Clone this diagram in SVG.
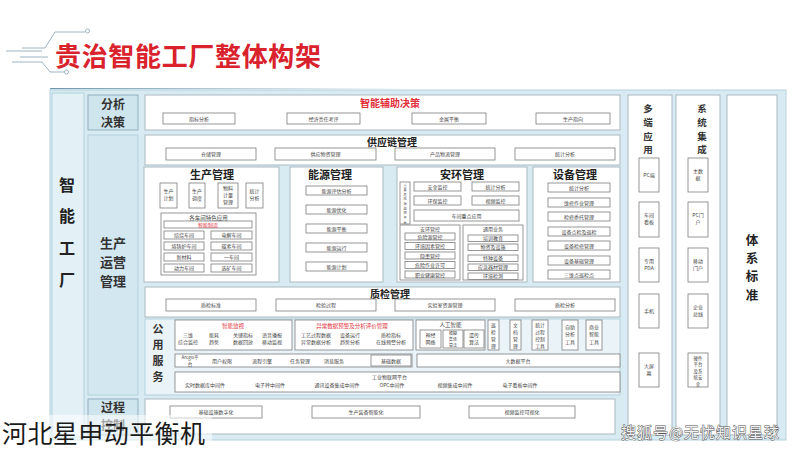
<svg xmlns="http://www.w3.org/2000/svg" width="800" height="449" viewBox="0 0 800 449">
<defs>
<linearGradient id="ul" x1="0" x2="1" y1="0" y2="0"><stop offset="0" stop-color="#6f98ad"/><stop offset="1" stop-color="#6f98ad" stop-opacity="0"/></linearGradient>
</defs>
<style>
text{font-family:"Noto Sans CJK SC","Noto Sans",sans-serif;text-anchor:middle;fill:#333}
.panel{fill:#d9ebf2;stroke:#b4d1dc}
.w{fill:#fff;stroke:#a9b9c1;stroke-width:1}
.s{fill:#fff;stroke:#7d7d7d;stroke-width:0.8}
.lab{fill:#cfe5ee;stroke:#8fb0bd}
.tt{font-size:5px;fill:#444}
.h{font-size:10px;font-weight:bold;fill:#222}
.red{fill:#e2303a}
.side{font-size:12px;font-weight:bold;fill:#333}
</style>
<rect width="800" height="449" fill="#fff"/>
<g id="title">
<g fill="none" stroke="#9fb3c2" stroke-width="1">
<path d="M22,48 H45 L55,32 H85"/><circle cx="87.5" cy="31" r="2"/>
<path d="M6,51 H42"/><path d="M20,57 H48"/>
<path d="M12,62 H42 L50,72 H64"/><circle cx="66.5" cy="72" r="2"/>
</g>
<text x="188" y="66" style="font-size:26px;font-weight:bold;fill:#d9222c" textLength="266">贵治智能工厂整体构架</text>
<rect x="50" y="88" width="360" height="1.2" fill="url(#ul)"/>
</g>
<g id="frame">
<rect class="panel" x="50" y="90" width="736" height="350"/>
<rect x="52" y="93" width="32" height="344" fill="#e3f0f6" stroke="#b4d1dc"/>
<text style="font-size:16px;font-weight:bold;fill:#222"><tspan x="67" y="191">智</tspan><tspan x="67" y="222">能</tspan><tspan x="67" y="254">工</tspan><tspan x="67" y="286">厂</tspan></text>
</g>
<g id="fenxijuece">
<rect class="lab" x="88" y="95" width="50" height="35"/>
<text class="side"><tspan x="113" y="109">分析</tspan><tspan x="113" y="126.5">决策</tspan></text>
</g>
<g id="shengchanyunying">
<rect class="lab" x="88" y="135" width="50" height="260" style="fill:#d2e7f0;stroke:#b4d1dc"/>
<text class="side" style="font-size:13px"><tspan x="113" y="248">生产</tspan><tspan x="113" y="267">运营</tspan><tspan x="113" y="286">管理</tspan></text>
</g>
<g id="guochengkongzhi">
<rect class="lab" x="88" y="399" width="50" height="36"/>
<text class="side"><tspan x="113" y="412">过程</tspan><tspan x="113" y="429.5">控制</tspan></text>
</g>
<g id="zhinengfuzhu">
<rect class="w" x="145" y="95" width="475" height="35"/>
<text class="red" x="390" y="107" style="font-size:10px;font-weight:bold">智能辅助决策</text>
<rect class="s" x="163" y="113" width="72" height="11"/><text class="tt" x="199" y="120.5">指标分析</text>
<rect class="s" x="287" y="113" width="73" height="11"/><text class="tt" x="323.5" y="120.5">经济责任考评</text>
<rect class="s" x="412" y="113" width="74" height="11"/><text class="tt" x="449" y="120.5">金属平衡</text>
<rect class="s" x="536" y="113" width="74" height="11"/><text class="tt" x="573" y="120.5">生产指向</text>
</g>
<g id="gongyinglian">
<rect class="w" x="145" y="135" width="475" height="30"/>
<text class="h" x="392" y="146">供应链管理</text>
<rect class="s" x="166" y="148" width="90" height="12"/><text class="tt" x="211" y="156">仓储管理</text>
<rect class="s" x="275" y="148" width="101" height="12"/><text class="tt" x="325.5" y="156">供应物资管理</text>
<rect class="s" x="395" y="148" width="100" height="12"/><text class="tt" x="445" y="156">产品物流管理</text>
<rect class="s" x="515" y="148" width="100" height="12"/><text class="tt" x="565" y="156">统计分析</text>
</g>
<g id="shengchanguanli">
<rect class="w" x="144" y="167" width="135" height="115"/>
<text class="h" x="212" y="179" style="font-size:11px">生产管理</text>
<rect class="s" x="160" y="183" width="17" height="25"/><text class="tt"><tspan x="168.5" y="192.5">生产</tspan><tspan x="168.5" y="199.8">计划</tspan></text>
<rect class="s" x="189" y="183" width="16" height="25"/><text class="tt"><tspan x="197" y="192.5">生产</tspan><tspan x="197" y="199.8">调度</tspan></text>
<rect class="s" x="218" y="183" width="20" height="25"/><text class="tt"><tspan x="228" y="189.5">物料</tspan><tspan x="228" y="196.8">计量</tspan><tspan x="228" y="204.1">管理</tspan></text>
<rect class="s" x="246" y="183" width="17" height="25"/><text class="tt"><tspan x="254.5" y="192.5">统计</tspan><tspan x="254.5" y="199.8">分析</tspan></text>
<rect class="s" x="161" y="213" width="95" height="62"/>
<text class="tt" x="208.5" y="219.5" style="font-size:5.5px">各车间特色应用</text>
<rect class="s" x="164" y="221" width="88" height="7"/><text class="tt red" x="208" y="226.5">智能制造</text>
<rect class="s" x="164" y="231" width="40" height="8"/><text class="tt" x="184" y="237">焙烧车间</text>
<rect class="s" x="211" y="231" width="41" height="8"/><text class="tt" x="231.5" y="237">电解车间</text>
<rect class="s" x="164" y="242" width="40" height="8"/><text class="tt" x="184" y="248">熔铸炉车间</text>
<rect class="s" x="211" y="242" width="41" height="8"/><text class="tt" x="231.5" y="248">碳素车间</text>
<rect class="s" x="164" y="253" width="40" height="8"/><text class="tt" x="184" y="259">新材料</text>
<rect class="s" x="211" y="253" width="41" height="8"/><text class="tt" x="231.5" y="259">一车间</text>
<rect class="s" x="164" y="264" width="40" height="8"/><text class="tt" x="184" y="270">动力车间</text>
<rect class="s" x="211" y="264" width="41" height="8"/><text class="tt" x="231.5" y="270">选矿车间</text>
</g>
<g id="nengyuan">
<rect class="w" x="290" y="167" width="93" height="115"/>
<text class="h" x="330" y="179" style="font-size:11px">能源管理</text>
<rect class="s" x="306" y="186" width="61" height="9"/><text class="tt" x="336.5" y="192.5">能源评估分析</text>
<rect class="s" x="306" y="205" width="61" height="9"/><text class="tt" x="336.5" y="211.5">能源优化</text>
<rect class="s" x="306" y="224" width="61" height="9"/><text class="tt" x="336.5" y="230.5">能源平衡</text>
<rect class="s" x="306" y="243" width="61" height="9"/><text class="tt" x="336.5" y="249.5">能源运行</text>
<rect class="s" x="306" y="262" width="61" height="9"/><text class="tt" x="336.5" y="268.5">能源计划</text>
</g>
<g id="anhuan">
<rect class="w" x="397" y="167" width="130" height="115"/>
<text class="h" x="462" y="179" style="font-size:11px">安环管理</text>
<rect class="s" x="400" y="182" width="10" height="42"/>
<text class="tt" style="font-size:3.2px"><tspan x="405" y="186.5">重</tspan><tspan x="405" y="191.15">要</tspan><tspan x="405" y="195.8">危</tspan><tspan x="405" y="200.45">险</tspan><tspan x="405" y="205.1">源</tspan><tspan x="405" y="209.75">监</tspan><tspan x="405" y="214.4">控</tspan><tspan x="405" y="219.05">平</tspan><tspan x="405" y="223.7">台</tspan></text>
<rect class="s" x="414" y="182" width="47" height="9"/><text class="tt" x="437.5" y="188.5">安全监控</text>
<rect class="s" x="472" y="182" width="47" height="9"/><text class="tt" x="495.5" y="188.5">统计分析</text>
<rect class="s" x="414" y="196" width="47" height="9"/><text class="tt" x="437.5" y="202.5">环保监控</text>
<rect class="s" x="472" y="196" width="47" height="9"/><text class="tt" x="495.5" y="202.5">视频监控</text>
<rect class="s" x="414" y="210" width="105" height="11"/><text class="tt" x="466.5" y="217.5">车间重点应用</text>
<rect class="s" x="400" y="225" width="60" height="55"/>
<text class="tt" x="430" y="231">安环管控</text>
<rect class="s" x="405" y="233" width="50" height="7"/><text class="tt" x="430" y="238.5">危险源管控</text>
<rect class="s" x="405" y="242.5" width="50" height="7"/><text class="tt" x="430" y="248">环境因素管控</text>
<rect class="s" x="405" y="252" width="50" height="7"/><text class="tt" x="430" y="257.5">隐患管控</text>
<rect class="s" x="405" y="261.5" width="50" height="7"/><text class="tt" x="430" y="267">危险作业许可</text>
<rect class="s" x="405" y="271" width="50" height="7"/><text class="tt" x="430" y="276.5">职业健康管控</text>
<rect class="s" x="463" y="225" width="60" height="55"/>
<text class="tt" x="493" y="231">通用业务</text>
<rect class="s" x="468" y="235" width="50" height="6.5"/><text class="tt" x="493" y="240.2">培训教育</text>
<rect class="s" x="468" y="244" width="50" height="6.5"/><text class="tt" x="493" y="249.2">物资及设施</text>
<rect class="s" x="468" y="255" width="50" height="6.5"/><text class="tt" x="493" y="260.2">特种设备</text>
<rect class="s" x="468" y="264" width="50" height="6.5"/><text class="tt" x="493" y="269.2">应急器材管理</text>
<rect class="s" x="468" y="273" width="50" height="6.5"/><text class="tt" x="493" y="278.2">环境检测</text>
</g>
<g id="shebei">
<rect class="w" x="533" y="167" width="87" height="115"/>
<text class="h" x="575" y="179" style="font-size:11px">设备管理</text>
<rect class="s" x="548" y="183" width="62" height="9"/><text class="tt" x="579" y="189.5">统计分析</text>
<rect class="s" x="548" y="198" width="62" height="9"/><text class="tt" x="579" y="204.5">维修作业管理</text>
<rect class="s" x="548" y="212" width="62" height="9"/><text class="tt" x="579" y="218.5">检修委托管理</text>
<rect class="s" x="548" y="227" width="62" height="9"/><text class="tt" x="579" y="233.5">设备点检及巡检</text>
<rect class="s" x="548" y="241" width="62" height="9"/><text class="tt" x="579" y="247.5">设备检修管理</text>
<rect class="s" x="548" y="256" width="62" height="9"/><text class="tt" x="579" y="262.5">设备基础管理</text>
<rect class="s" x="548" y="270" width="62" height="9"/><text class="tt" x="579" y="276.5">三维点巡检点</text>
</g>
<g id="zhijian">
<rect class="w" x="145" y="287" width="475" height="30"/>
<text class="h" x="390" y="298">质检管理</text>
<rect class="s" x="166" y="299" width="90" height="12"/><text class="tt" x="211" y="307">质检标准</text>
<rect class="s" x="276" y="299" width="100" height="12"/><text class="tt" x="326" y="307">检验过程</text>
<rect class="s" x="395" y="299" width="100" height="12"/><text class="tt" x="445" y="307">实验室资源管理</text>
<rect class="s" x="515" y="299" width="100" height="12"/><text class="tt" x="565" y="307">质检分析</text>
</g>
<g id="gongyongfuwu">
<rect x="145" y="319" width="475" height="76" fill="#eaf4f8" stroke="#b4d1dc"/>
<text style="font-size:11px;font-weight:bold;fill:#333"><tspan x="158" y="333">公</tspan><tspan x="158" y="349">用</tspan><tspan x="158" y="365">服</tspan><tspan x="158" y="381">务</tspan></text>
<rect class="s" x="175" y="320" width="117" height="30"/>
<text class="tt red" x="233" y="327.5" style="font-size:5.5px">智能监视</text>
<text class="tt"><tspan x="188" y="337">三维</tspan><tspan x="188" y="344.3">综合监控</tspan></text>
<text class="tt"><tspan x="214" y="337">能耗</tspan><tspan x="214" y="344.3">趋势</tspan></text>
<text class="tt"><tspan x="243" y="337">关键指标</tspan><tspan x="243" y="344.3">数据回放</tspan></text>
<text class="tt"><tspan x="272" y="337">语音播报</tspan><tspan x="272" y="344.3">移动监视</tspan></text>
<rect class="s" x="295" y="320" width="118" height="30"/>
<text class="tt red" x="352" y="327.5" style="font-size:5.5px">异常数据预警及分析评价管理</text>
<text class="tt"><tspan x="316" y="337">工艺过程数据</tspan><tspan x="316" y="344.3">异常数据分析</tspan></text>
<text class="tt"><tspan x="350" y="337">设备运行</tspan><tspan x="350" y="344.3">趋势分析</tspan></text>
<text class="tt"><tspan x="391" y="337">质检指标</tspan><tspan x="391" y="344.3">在线预警分析</tspan></text>
<rect class="s" x="416" y="320" width="69" height="30"/>
<text class="tt" x="450.5" y="327" style="font-size:5.5px">人工智能</text>
<rect class="s" x="420" y="330" width="21" height="18"/><text class="tt"><tspan x="430.5" y="337">神经</tspan><tspan x="430.5" y="344.3">网络</tspan></text>
<rect class="s" x="443" y="330" width="20" height="18"/><text class="tt" style="font-size:4px"><tspan x="453" y="335">模糊</tspan><tspan x="453" y="340.8">集体</tspan><tspan x="453" y="346.6">算法</tspan></text>
<rect class="s" x="464" y="330" width="20" height="18"/><text class="tt"><tspan x="474" y="337">遗传</tspan><tspan x="474" y="344.3">算法</tspan></text>
<rect class="s" x="488" y="320" width="11" height="30"/><text class="tt" style="font-size:4.8px"><tspan x="493.5" y="326.5">巡</tspan><tspan x="493.5" y="333.5">检</tspan><tspan x="493.5" y="340.5">管</tspan><tspan x="493.5" y="347.5">理</tspan></text>
<rect class="s" x="510" y="320" width="11" height="30"/><text class="tt" style="font-size:4.8px"><tspan x="515.5" y="326.5">文</tspan><tspan x="515.5" y="333.5">档</tspan><tspan x="515.5" y="340.5">管</tspan><tspan x="515.5" y="347.5">理</tspan></text>
<rect class="s" x="532" y="320" width="16" height="30"/><text class="tt" style="font-size:4.8px"><tspan x="540" y="326.5">统计</tspan><tspan x="540" y="333.5">过程</tspan><tspan x="540" y="340.5">控制</tspan><tspan x="540" y="347.5">工具</tspan></text>
<rect class="s" x="562" y="320" width="16" height="30"/><text class="tt"><tspan x="570" y="329">自助</tspan><tspan x="570" y="336.3">分析</tspan><tspan x="570" y="343.6">工具</tspan></text>
<rect class="s" x="586" y="320" width="16" height="30"/><text class="tt"><tspan x="594" y="329">商业</tspan><tspan x="594" y="336.3">智能</tspan><tspan x="594" y="343.6">工具</tspan></text>
<rect class="s" x="175" y="354" width="237" height="13"/>
<text class="tt" style="font-size:4.5px"><tspan x="190" y="359">Arcgis平</tspan><tspan x="190" y="365.6">台</tspan></text>
<text class="tt" x="222" y="362.5">用户权限</text>
<text class="tt" x="262" y="362.5">流程引擎</text>
<text class="tt" x="300" y="362.5">任务管理</text>
<text class="tt" x="334" y="362.5">消息服务</text>
<rect class="s" x="371" y="355" width="40" height="11"/><text class="tt" x="391" y="362.5">基础数据</text>
<rect class="s" x="417" y="354" width="203" height="13"/><text class="tt" x="518" y="362.5">大数据平台</text>
<rect class="s" x="175" y="372" width="445" height="20"/>
<text class="tt" x="372" y="379" style="text-anchor:start">工业物联网平台</text>
<text class="tt" x="205" y="387">实时数据库中间件</text>
<text class="tt" x="270" y="387">电子秤中间件</text>
<text class="tt" x="337" y="387">通讯设备集成中间件</text>
<text class="tt" x="392" y="387">OPC中间件</text>
<text class="tt" x="455" y="387">视频集成中间件</text>
<text class="tt" x="520" y="387">电子看板中间件</text>
</g>
<g id="guocheng">
<rect class="w" x="145" y="399" width="470" height="35"/>
<rect class="s" x="170" y="406" width="92" height="12"/><text class="tt" x="216" y="414">基础设施数字化</text>
<rect class="s" x="312" y="406" width="108" height="12"/><text class="tt" x="366" y="414">生产装备智能化</text>
<rect class="s" x="469" y="406" width="106" height="12"/><text class="tt" x="522" y="414">视频监控可视化</text>
</g>
<g id="duoduan">
<rect class="w" x="628" y="95" width="44" height="340"/>
<text style="font-size:9.5px;font-weight:bold;fill:#333"><tspan x="648" y="112">多</tspan><tspan x="648" y="125.8">端</tspan><tspan x="648" y="139.6">应</tspan><tspan x="648" y="153.4">用</tspan></text>
<rect class="s" x="639" y="158" width="20" height="34"/><text class="tt" x="649" y="177">PC端</text>
<rect class="s" x="639" y="202" width="20" height="35"/><text class="tt"><tspan x="649" y="217">车间</tspan><tspan x="649" y="224.3">看板</tspan></text>
<rect class="s" x="639" y="248" width="20" height="34"/><text class="tt"><tspan x="649" y="263">专用</tspan><tspan x="649" y="270.3">PDA</tspan></text>
<rect class="s" x="639" y="294" width="20" height="34"/><text class="tt" x="649" y="313">手机</text>
<rect class="s" x="639" y="353" width="20" height="34"/><text class="tt"><tspan x="649" y="368">大屏</tspan><tspan x="649" y="375.3">幕</tspan></text>
</g>
<g id="xitongjicheng">
<rect class="w" x="676" y="95" width="44" height="340"/>
<text style="font-size:9.5px;font-weight:bold;fill:#333"><tspan x="702" y="112">系</tspan><tspan x="702" y="125.8">统</tspan><tspan x="702" y="139.6">集</tspan><tspan x="702" y="153.4">成</tspan></text>
<rect class="s" x="688" y="158" width="20" height="34"/><text class="tt"><tspan x="698" y="173">主数</tspan><tspan x="698" y="180.3">据</tspan></text>
<rect class="s" x="688" y="202" width="20" height="35"/><text class="tt"><tspan x="698" y="217">PC门</tspan><tspan x="698" y="224.3">户</tspan></text>
<rect class="s" x="688" y="248" width="20" height="34"/><text class="tt"><tspan x="698" y="263">移动</tspan><tspan x="698" y="270.3">门户</tspan></text>
<rect class="s" x="688" y="294" width="20" height="34"/><text class="tt"><tspan x="698" y="309">企业</tspan><tspan x="698" y="316.3">总线</tspan></text>
<rect class="s" x="688" y="353" width="20" height="34"/><text class="tt" style="font-size:4.4px"><tspan x="698" y="360">硬件</tspan><tspan x="698" y="366.4">平台</tspan><tspan x="698" y="372.8">及系</tspan><tspan x="698" y="379.2">统安</tspan><tspan x="698" y="385.6">全</tspan></text>
</g>
<g id="tixibiaozhun">
<rect class="w" x="727" y="95" width="50" height="340"/>
<text style="font-size:12.5px;font-weight:bold;fill:#222"><tspan x="752" y="245">体</tspan><tspan x="752" y="263.2">系</tspan><tspan x="752" y="281.4">标</tspan><tspan x="752" y="299.6">准</tspan></text>
</g>
<g id="overlay">
<rect x="0" y="415" width="212" height="34" fill="#fff" opacity="0.55"/>
<text x="2" y="443" style="text-anchor:start;font-size:25px;fill:#1a1a1a" textLength="203">河北星申动平衡机</text>
<text x="700" y="438" style="font-size:15px;fill:#f2f2f2;stroke:#555;stroke-width:0.9;paint-order:stroke" textLength="158">搜狐号@无忧知识星球</text>
</g>
</svg>
